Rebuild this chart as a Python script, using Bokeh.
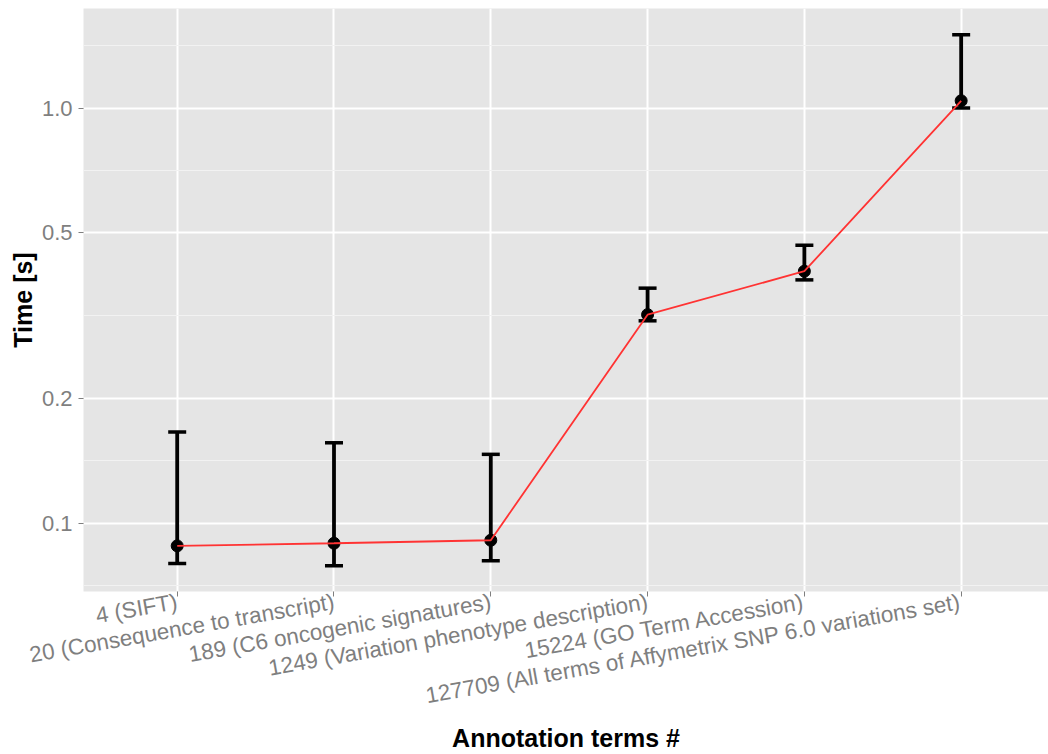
from bokeh.plotting import figure
from bokeh.models import Range1d, FixedTicker, Whisker, ColumnDataSource, TeeHead
from bokeh.embed import file_html
from bokeh.resources import INLINE
import math

categories = [
    "4 (SIFT)",
    "20 (Consequence to transcript)",
    "189 (C6 oncogenic signatures)",
    "1249 (Variation phenotype description)",
    "15224 (GO Term Accession)",
    "127709 (All terms of Affymetrix SNP 6.0 variations set)",
]
time_mean = [0.0881, 0.0894, 0.0909, 0.3178, 0.4044, 1.041]
time_low = [0.0799, 0.0789, 0.0811, 0.3071, 0.3854, 1.000]
time_high = [0.1658, 0.1561, 0.1464, 0.3681, 0.4673, 1.502]

y_ticks = [0.1, 0.2, 0.5, 1.0]
y_tick_labels = ["0.1", "0.2", "0.5", "1.0"]
y_minor = [0.0707, 0.1414, 0.3162, 0.7071, 1.414]

x_title = "Annotation terms #"
y_title = "Time [s]"

x_pos = list(range(1, len(categories) + 1))

src = ColumnDataSource(dict(x=x_pos, mean=time_mean, low=time_low, high=time_high))

p = figure(
    width=1048, height=754,
    min_border_left=83, min_border_right=0, min_border_top=8, min_border_bottom=158,
    x_range=Range1d(0.4024, 6.557),
    y_range=Range1d(0.0684, 1.737),
    y_axis_type="log",
    output_backend="svg", toolbar_location=None,
)

p.background_fill_color = "#E5E5E5"
p.border_fill_color = "white"
p.outline_line_color = None

# grids
p.xgrid.grid_line_color = "white"
p.xgrid.grid_line_width = 2
p.ygrid.grid_line_color = "white"
p.ygrid.grid_line_width = 2
p.ygrid.minor_grid_line_color = "#F2F2F2"
p.ygrid.minor_grid_line_width = 1

# axes
p.xaxis.ticker = FixedTicker(ticks=x_pos)
p.xaxis.major_label_overrides = {x: c for x, c in zip(x_pos, categories)}
p.xaxis.major_label_orientation = math.radians(10)
p.yaxis.ticker = FixedTicker(ticks=y_ticks, minor_ticks=y_minor)
p.yaxis.major_label_overrides = {t: l for t, l in zip(y_ticks, y_tick_labels)}

for ax in (p.xaxis[0], p.yaxis[0]):
    ax.axis_line_color = None
    ax.major_tick_line_color = "#7F7F7F"
    ax.major_tick_line_width = 1
    ax.major_tick_out = 5
    ax.major_tick_in = 0
    ax.minor_tick_line_color = None
    ax.major_label_text_font = "Liberation Sans"
    ax.major_label_text_font_size = "22px"
    ax.major_label_text_color = "#7F7F7F"
    ax.major_label_standoff = 6
    ax.axis_label_text_font = "Liberation Sans"
    ax.axis_label_text_font_size = "25px"
    ax.axis_label_text_font_style = "bold"
    ax.axis_label_text_color = "black"
    ax.axis_label_standoff = 2

p.xaxis.major_label_text_font_size = "22.5px"
p.xaxis.major_label_standoff = 5
p.xaxis.axis_label_standoff = 0

p.xaxis.axis_label = x_title
p.yaxis.axis_label = y_title

# error bars
w = Whisker(
    base="x", upper="high", lower="low", source=src, dimension="height",
    line_color="black", line_width=3.8,
    upper_head=TeeHead(size=18, line_color="black", line_width=3.5),
    lower_head=TeeHead(size=18, line_color="black", line_width=3.5),
)
p.add_layout(w)

p.scatter("x", "mean", source=src, size=12, color="black")
p.line("x", "mean", source=src, line_color="#FF3333", line_width=1.8)

open("out.html", "w").write(file_html(p, INLINE))
